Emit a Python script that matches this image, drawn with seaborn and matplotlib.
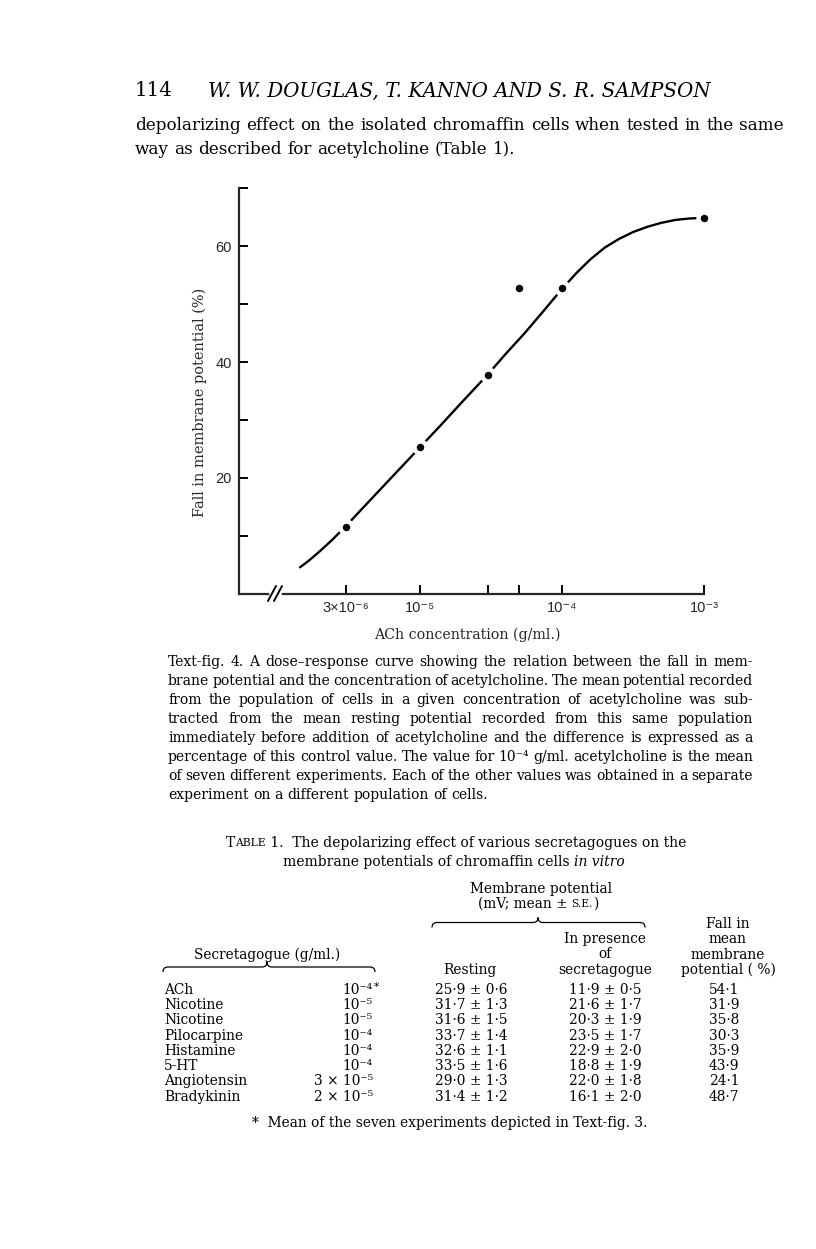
import numpy as np
import pandas as pd
import matplotlib
matplotlib.use("Agg")
import matplotlib.pyplot as plt
import matplotlib.transforms as mtransforms
from matplotlib.lines import Line2D
from matplotlib.path import Path
from matplotlib.patches import PathPatch
from matplotlib.ticker import FixedLocator, NullFormatter
import seaborn as sns

# ========================
# DATA
# ========================
ACH_DOSE = [3e-6, 1e-5, 3e-5, 5e-5, 1e-4, 1e-3]      # g/ml
ACH_FALL = [11.6, 25.3, 37.7, 52.8, 52.8, 64.8]      # fall in membrane potential, %

# hand drawn dose-response curve, traced point by point
CURVE_LOG_DOSE = [-5.845, -5.78, -5.704, -5.62, -5.526, -5.4, -5.25, -5.1, -5.0,
                  -4.85, -4.7, -4.528, -4.4, -4.262, -4.13, -4.0, -3.9, -3.8,
                  -3.7, -3.6, -3.5, -3.4, -3.3, -3.2, -3.1, -3.04]
CURVE_FALL = [4.6, 5.8, 7.4, 9.3, 11.6, 14.9, 18.8, 22.7, 25.3,
              29.2, 33.2, 37.7, 41.3, 45.0, 48.8, 52.6, 55.3, 57.7,
              59.7, 61.2, 62.4, 63.3, 64.0, 64.5, 64.75, 64.8]

XTICKS = [3e-6, 1e-5, 1e-4, 1e-3]
XTICK_LABELS = ["3×10⁻⁶", "10⁻⁵", "10⁻⁴", "10⁻³"]
XTICKS_MINOR = [3e-5, 5e-5]
YTICKS = [20, 40, 60]
YTICKS_MINOR = [10, 30, 50, 70]

# Table 1
AGENTS = ["ACh", "Nicotine", "Nicotine", "Pilocarpine", "Histamine", "5-HT",
          "Angiotensin", "Bradykinin"]
CONC = ["10⁻⁴", "10⁻⁵", "10⁻⁵", "10⁻⁴", "10⁻⁴", "10⁻⁴", "3 × 10⁻⁵", "2 × 10⁻⁵"]
REST_MEAN = [25.9, 31.7, 31.6, 33.7, 32.6, 33.5, 29.0, 31.4]
REST_SE = [0.6, 1.3, 1.5, 1.4, 1.1, 1.6, 1.3, 1.2]
PRES_MEAN = [11.9, 21.6, 20.3, 23.5, 22.9, 18.8, 22.0, 16.1]
PRES_SE = [0.5, 1.7, 1.9, 1.7, 2.0, 1.9, 1.8, 2.0]
FALL_PCT = [54.1, 31.9, 35.8, 30.3, 35.9, 43.9, 24.1, 48.7]

BODY = ["depolarizing effect on the isolated chromaffin cells when tested in the same",
        "way as described for acetylcholine (Table 1)."]
CAPTION = [
    "Text-fig. 4.  A dose–response curve showing the relation between the fall in mem-",
    "brane potential and the concentration of acetylcholine. The mean potential recorded",
    "from the population of cells in a given concentration of acetylcholine was sub-",
    "tracted from the mean resting potential recorded from this same population",
    "immediately before addition of acetylcholine and the difference is expressed as a",
    "percentage of this control value. The value for 10⁻⁴ g/ml. acetylcholine is the mean",
    "of seven different experiments. Each of the other values was obtained in a separate",
    "experiment on a different population of cells.",
]

# ========================
# PAGE SETUP
# ========================
W, H = 816, 1249
sns.set_style("ticks")
SERIF = ["DejaVu Serif", "DejaVu Sans"]
SANS = ["Liberation Sans", "DejaVu Sans"]
plt.rcParams["font.family"] = SERIF

fig = plt.figure(figsize=(W / 100, H / 100), dpi=100)
PX = mtransforms.Affine2D().scale(1 / W, -1 / H).translate(0, 1) + fig.transFigure
R = fig.canvas.get_renderer()


def txt(x, y, s, size, ha="left", **kw):
    kw.setdefault("family", SERIF)
    return fig.text(x, y, s, transform=PX, fontsize=size, ha=ha, va="center",
                    color="black", **kw)


def width(a):
    return a.get_window_extent(R).width


def fit(s, target, **kw):
    a = txt(0, 0, s, 10, **kw)
    w = width(a)
    a.remove()
    return 10 * target / w


def space(size, **kw):
    a, b = txt(0, 0, "a a", size, **kw), txt(0, 0, "aa", size, **kw)
    w = width(a) - width(b)
    a.remove(); b.remove()
    return w


def justify(s, x0, x1, y, size, last=False, **kw):
    words = s.split()
    arts = [txt(x0, y, w, size, **kw) for w in words]
    ws = [width(a) for a in arts]
    gap = space(size, **kw) if last else (x1 - x0 - sum(ws)) / (len(words) - 1)
    x = x0
    for a, w in zip(arts, ws):
        a.set_x(x)
        x += w + gap


def run(x, y, pieces, ha="left"):
    # pieces: (text, size, kwargs, gap after in px)
    arts = [txt(0, y, t, sz, **kw) for t, sz, kw, _ in pieces]
    ws = [width(a) for a in arts]
    total = sum(ws) + sum(p[3] for p in pieces)
    if ha == "center":
        x -= total / 2
    for a, w, p in zip(arts, ws, pieces):
        a.set_x(x)
        x += w + p[3]


def brace(x0, x1, xc, y, d=5):
    verts = [(x0, y + d), (x0, y), (x0 + d, y), (xc - d, y), (xc, y), (xc, y - d),
             (xc, y), (xc + d, y), (x1 - d, y), (x1, y), (x1, y + d)]
    codes = [Path.MOVETO, Path.CURVE3, Path.CURVE3, Path.LINETO, Path.CURVE3, Path.CURVE3,
             Path.CURVE3, Path.CURVE3, Path.LINETO, Path.CURVE3, Path.CURVE3]
    fig.add_artist(PathPatch(Path(verts, codes), transform=PX, fill=False,
                             lw=0.9, edgecolor="black"))


# ========================
# RUNNING HEAD + BODY TEXT
# ========================
hsize = fit("W. W. DOUGLAS, T. KANNO AND S. R. SAMPSON", 501, style="italic")
run(135, 91, [("114", hsize, {}, 35),
              ("W. W. DOUGLAS, T. KANNO AND S. R. SAMPSON", hsize, {"style": "italic"}, 0)])
bsize = fit(BODY[0], 646)
justify(BODY[0], 135, 784, 125, bsize)
justify(BODY[1], 135, 784, 149, bsize, last=True)

# ========================
# FIGURE
# ========================
ax = fig.add_axes([239 / W, 1 - 594 / H, 465 / W, 406 / H])
ax.set_xscale("log")
curve = pd.DataFrame({"dose": 10 ** np.array(CURVE_LOG_DOSE), "fall": CURVE_FALL})
pts = pd.DataFrame({"dose": ACH_DOSE, "fall": ACH_FALL})
sns.lineplot(data=curve, x="dose", y="fall", ax=ax, color="black", lw=1.7,
             sort=False, estimator=None)
# white rim around the dots leaves the small gaps in the curve
sns.scatterplot(data=pts, x="dose", y="fall", ax=ax, color="black", s=74,
                edgecolor="white", linewidth=3.2, zorder=3, clip_on=False)
ax.set_xlim(10 ** -6.2746, 1e-3)
ax.set_ylim(0, 70)
sns.despine(ax=ax)
for sp in ("left", "bottom"):
    ax.spines[sp].set_linewidth(1.6)

ax.set_xticks(XTICKS)
ax.set_xticklabels(XTICK_LABELS)
ax.xaxis.set_minor_locator(FixedLocator(XTICKS_MINOR))
ax.xaxis.set_minor_formatter(NullFormatter())
ax.set_yticks(YTICKS)
ax.set_yticklabels([str(v) for v in YTICKS])
ax.yaxis.set_minor_locator(FixedLocator(YTICKS_MINOR))
ax.tick_params(which="both", direction="in", length=6.5, width=1.4, color="black")
ax.tick_params(axis="y", pad=5)
ax.tick_params(axis="x", pad=5)
for lab in ax.get_xticklabels() + ax.get_yticklabels():
    lab.set_family(SANS)
    lab.set_fontsize(10.5)

ax.set_xlabel("ACh concentration (g/ml.)", fontsize=fit("ACh concentration (g/ml.)", 186),
              family=SERIF, va="center")
ax.xaxis.set_label_coords((467 - 239) / 465, (594 - 635) / 406)
ax.set_ylabel("Fall in membrane potential (%)",
              fontsize=fit("Fall in membrane potential (%)", 230), family=SERIF, va="center")
ax.yaxis.set_label_coords((200 - 239) / 465, (594 - 402) / 406)

# axis break on the abscissa
fig.add_artist(Line2D([271, 279], [593.5, 593.5], transform=PX, color="white", lw=3.5))
for dx in (0, 6):
    fig.add_artist(Line2D([268 + dx, 276 + dx], [601, 586], transform=PX,
                          color="black", lw=1.4))

# ========================
# CAPTION
# ========================
csize = fit(CAPTION[0], 578)
for i, line in enumerate(CAPTION):
    justify(line, 168, 753, 662 + 19 * i, csize, last=(i == len(CAPTION) - 1))

# ========================
# TABLE 1
# ========================
tsize = fit("Secretagogue (g/ml.)", 147)
ttl = fit("TABLE 1.  The depolarizing effect of various secretagogues on the", 467)
run(456, 843, [("T", ttl, {}, 0), ("ABLE", ttl * 0.78, {}, 0),
               (" 1.  The depolarizing effect of various secretagogues on the", ttl, {}, 0)],
    ha="center")
run(454, 862, [("membrane potentials of chromaffin cells", ttl, {}, space(ttl)),
               ("in vitro", ttl, {"style": "italic"}, 0)], ha="center")

txt(541, 889, "Membrane potential", tsize, ha="center")
run(538, 904, [("(mV; mean ±", tsize, {}, space(tsize)), ("S.E.", tsize * 0.78, {}, 0),
               (")", tsize, {}, 0)], ha="center")
brace(432, 645, 538, 922.5)

for j, s in enumerate(["Fall in", "mean", "membrane", "potential ( %)"]):
    txt(728, 924 + 15.3 * j, s, tsize, ha="center")
for j, s in enumerate(["In presence", "of", "secretagogue"]):
    txt(605, 939 + 15.3 * j, s, tsize, ha="center")
txt(470, 970, "Resting", tsize, ha="center")
txt(267, 955, "Secretagogue (g/ml.)", tsize, ha="center")
brace(163, 375, 267, 967)


def dot(v):
    return f"{v:.1f}".replace(".", "·")


for i in range(len(AGENTS)):
    y = 990 + 15.25 * i
    txt(164, y, AGENTS[i], tsize)
    txt(373, y, CONC[i], tsize, ha="right")
    if i == 0:
        txt(374, y - 3, "*", tsize * 0.8)
    txt(471, y, f"{dot(REST_MEAN[i])} ± {dot(REST_SE[i])}", tsize, ha="center")
    txt(605, y, f"{dot(PRES_MEAN[i])} ± {dot(PRES_SE[i])}", tsize, ha="center")
    txt(724, y, dot(FALL_PCT[i]), tsize, ha="center")

txt(252, 1123, "*  Mean of the seven experiments depicted in Text-fig. 3.", tsize)

fig.savefig("out.png", dpi=100)
